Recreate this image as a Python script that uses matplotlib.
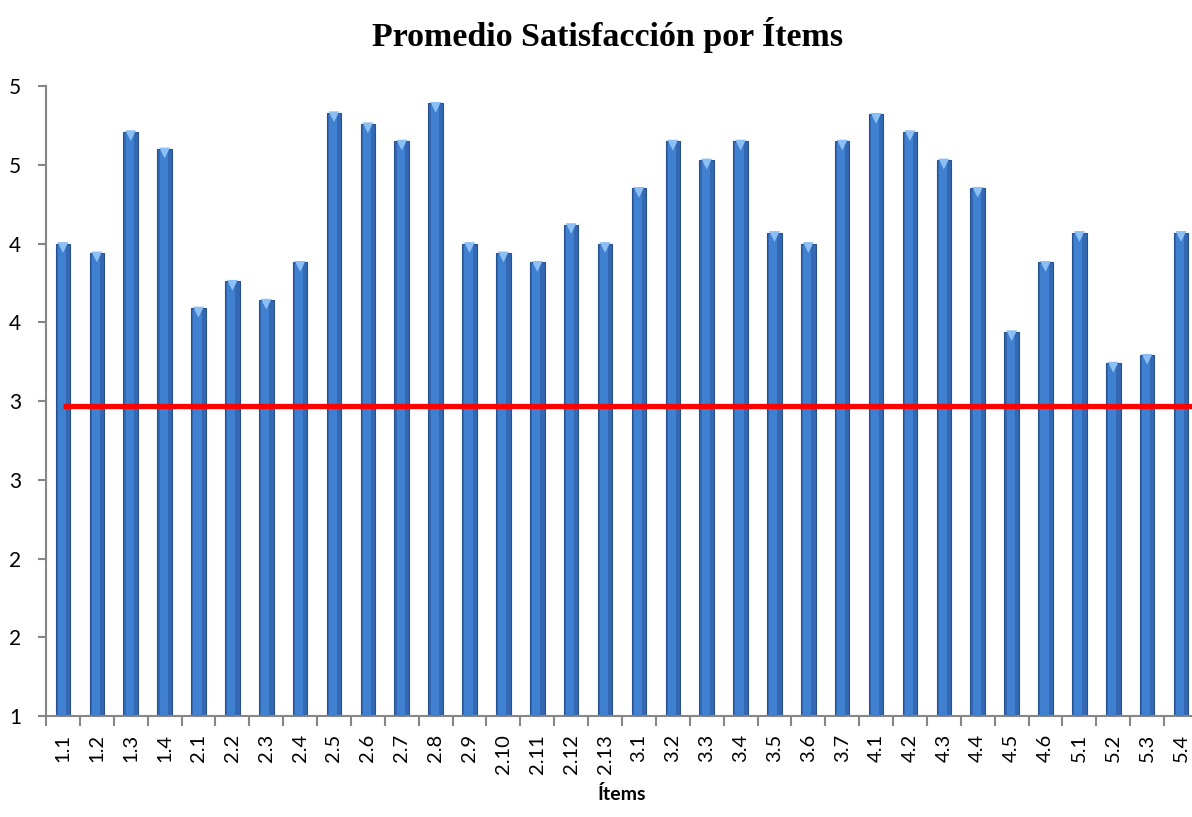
import numpy as np
import matplotlib
matplotlib.use("Agg")
from matplotlib import pyplot as plt
from matplotlib.ticker import FixedLocator, FuncFormatter

# datos
items = ["1.1", "1.2", "1.3", "1.4",
         "2.1", "2.2", "2.3", "2.4", "2.5", "2.6", "2.7", "2.8", "2.9", "2.10", "2.11", "2.12", "2.13",
         "3.1", "3.2", "3.3", "3.4", "3.5", "3.6", "3.7",
         "4.1", "4.2", "4.3", "4.4", "4.5", "4.6",
         "5.1", "5.2", "5.3", "5.4"]
promedio = [4.00, 3.94, 4.71, 4.60,
            3.59, 3.76, 3.64, 3.88, 4.83, 4.76, 4.65, 4.89, 4.00, 3.94, 3.88, 4.12, 4.00,
            4.35, 4.65, 4.53, 4.65, 4.07, 4.00, 4.65,
            4.82, 4.71, 4.53, 4.35, 3.44, 3.88,
            4.07, 3.24, 3.29, 4.07]
umbral = 2.97
yticks = [1, 1.5, 2, 2.5, 3, 3.5, 4, 4.5, 5]

plt.rcParams['font.family'] = ['Lato', 'DejaVu Sans']

fig = plt.figure(figsize=(11.92, 8.17), dpi=100)
ax = fig.add_axes([0.0386, 0.1236, 0.9664, 0.7711])

x = np.arange(len(items))
y = np.array(promedio)
base = 1

# barra principal + brillo central + punta clara
ax.bar(x, y - base, bottom=base, width=0.43, color='#3468b3', edgecolor='#27528f', linewidth=0.8, zorder=2)
ax.bar(x - 0.03, y - base - 0.01, bottom=base, width=0.24, color='#4080d0', linewidth=0, zorder=3)
ax.scatter(x, y - 0.025, marker='v', s=60, color='#8cc0f5', edgecolor='none', zorder=4)

ax.plot([0, len(items)], [umbral, umbral], color='#ff0000', linewidth=3.8, zorder=5, solid_capstyle='butt')

ax.set_xlim(-0.5, len(items) - 0.5)
ax.set_ylim(1, 5)

ax.yaxis.set_major_locator(FixedLocator(yticks))
ax.yaxis.set_major_formatter(FuncFormatter(lambda v, p: "%d" % int(v + 0.5)))

ax.set_xticks(x)
ax.set_xticklabels(items, rotation=90, fontsize=14.5)
ax.xaxis.set_minor_locator(FixedLocator(np.arange(-0.5, len(items) + 0.5, 1)))
ax.tick_params(axis='x', which='major', length=0, pad=13, colors='black')
ax.tick_params(axis='x', which='minor', length=7, width=1.5, color='#868686')
ax.tick_params(axis='y', length=6, width=1.5, color='#868686', labelsize=15, pad=12)

for s in ['top', 'right']:
    ax.spines[s].set_visible(False)
for s in ['left', 'bottom']:
    ax.spines[s].set_color('#868686')
    ax.spines[s].set_linewidth(1.5)

ax.set_xlabel("Ítems", fontsize=14, fontweight='bold', labelpad=8)
fig.text(0.51, 0.957, "Promedio Satisfacción por Ítems", ha='center', va='center',
         fontsize=24.5, fontweight='bold', family='Liberation Serif')

fig.savefig("out.png", dpi=100)
